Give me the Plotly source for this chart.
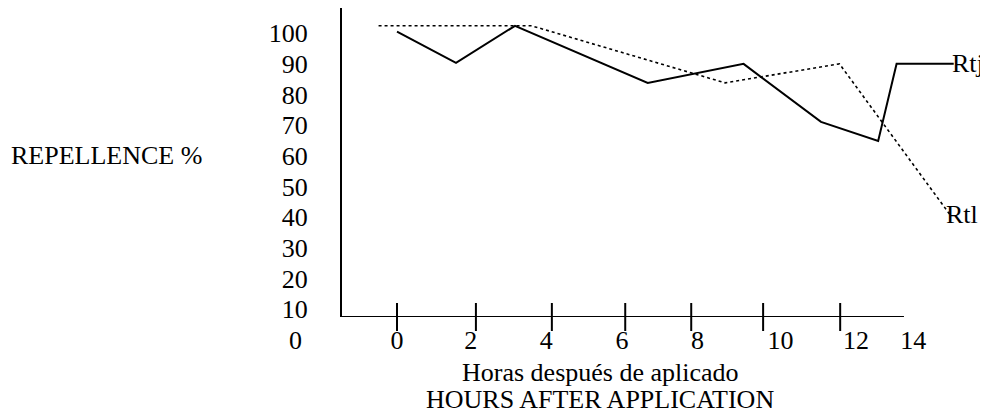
import plotly.graph_objects as go

# ---- data ----
rtj_hours = [0, 1.6, 3.2, 6.8, 9.4, 11.5, 13.05, 13.55, 15.1]
rtj_values = [100.5, 90.3, 102.4, 83.8, 90.0, 71.1, 64.9, 90.0, 90.0]

rtl_hours = [-0.5, 3.65, 8.9, 12.0, 15.0]
rtl_values = [102.4, 102.4, 83.8, 90.0, 40.8]

y_tick_labels = [10, 20, 30, 40, 50, 60, 70, 80, 90, 100]
x_tick_text = ["0", "2", "4", "6", "8", "10", "12", "14"]
x_tick_label_pos = [0, 2, 4.05, 6.1, 8.15, 10.4, 12.45, 14]
x_tick_mark_pos = [0, 2.14, 4.2, 6.19, 7.98, 9.93, 12.02]

# ---- geometry (page pixels; the page body adds an 8px margin) ----
OFF = 8
PAGE_W, PAGE_H = 988, 415
W, H = PAGE_W - OFF, PAGE_H - OFF
L, R, T, B = 342, 960, 8, 317   # plot area in page pixels
X_RANGE = [-1.492, 15.27]
Y_RANGE = [7.5, 108.2]
X_AXIS_END = 13.75

FONT = "Liberation Serif"
FS = 26


def px_x(px):
    return (px - L) / (R - L)


def px_y(py):
    return (B - py) / (B - T)


fig = go.Figure()

fig.add_trace(go.Scatter(
    x=rtj_hours, y=rtj_values, mode="lines", name="Rtj",
    line=dict(color="black", width=2), showlegend=False,
))
fig.add_trace(go.Scatter(
    x=rtl_hours, y=rtl_values, mode="lines", name="Rtl",
    line=dict(color="black", width=1.6, dash="dot"), showlegend=False,
))
# crossing tick marks on the x axis
fig.add_trace(go.Scatter(
    x=x_tick_mark_pos, y=[Y_RANGE[0]] * len(x_tick_mark_pos), mode="markers",
    marker=dict(symbol="line-ns", size=20, line=dict(color="black", width=2)),
    cliponaxis=False, showlegend=False, hoverinfo="skip",
))

# x axis line (shorter than the plot area)
fig.add_shape(type="line", xref="x", yref="y",
              x0=X_RANGE[0], x1=X_AXIS_END, y0=Y_RANGE[0], y1=Y_RANGE[0],
              line=dict(color="black", width=2))

tf = dict(family=FONT, size=FS, color="black")
ann = []
ann.append(dict(x=rtj_hours[-1], y=rtj_values[-1], xref="x", yref="y",
                text="Rtj", showarrow=False, xanchor="left", yanchor="middle",
                xshift=-3, borderpad=0, font=tf))
ann.append(dict(x=rtl_hours[-1], y=rtl_values[-1], xref="x", yref="y",
                text="Rtl", showarrow=False, xanchor="left", yanchor="middle",
                xshift=-5, borderpad=0, font=tf))
ann.append(dict(x=px_x(295), y=px_y(340), xref="paper", yref="paper",
                text="0", showarrow=False, xanchor="center", yanchor="middle",
                font=tf))
ann.append(dict(x=px_x(204), y=px_y(155), xref="paper", yref="paper",
                text="REPELLENCE %", showarrow=False, xanchor="right",
                yanchor="middle", font=tf))
ann.append(dict(x=px_x(600), y=px_y(372), xref="paper", yref="paper",
                text="Horas después de aplicado", showarrow=False,
                xanchor="center", yanchor="middle", font=tf))
ann.append(dict(x=px_x(600), y=px_y(399), xref="paper", yref="paper",
                text="HOURS AFTER APPLICATION", showarrow=False,
                xanchor="center", yanchor="middle", font=tf))

fig.update_layout(
    width=W, height=H,
    margin=dict(l=L - OFF, r=PAGE_W - R, t=0, b=PAGE_H - B, pad=0),
    paper_bgcolor="white", plot_bgcolor="white",
    font=tf,
    annotations=ann,
    showlegend=False,
)
fig.update_xaxes(
    range=X_RANGE, showgrid=False, zeroline=False, showline=False,
    tickmode="array", tickvals=x_tick_label_pos, ticktext=x_tick_text,
    ticks="", ticklabelstandoff=5, tickfont=tf,
)
fig.update_yaxes(
    range=Y_RANGE, showgrid=False, zeroline=False,
    showline=True, linecolor="black", linewidth=2,
    tickmode="array", tickvals=y_tick_labels,
    ticks="", ticklabelstandoff=27, tickfont=tf,
)

fig.write_html("out.html")
